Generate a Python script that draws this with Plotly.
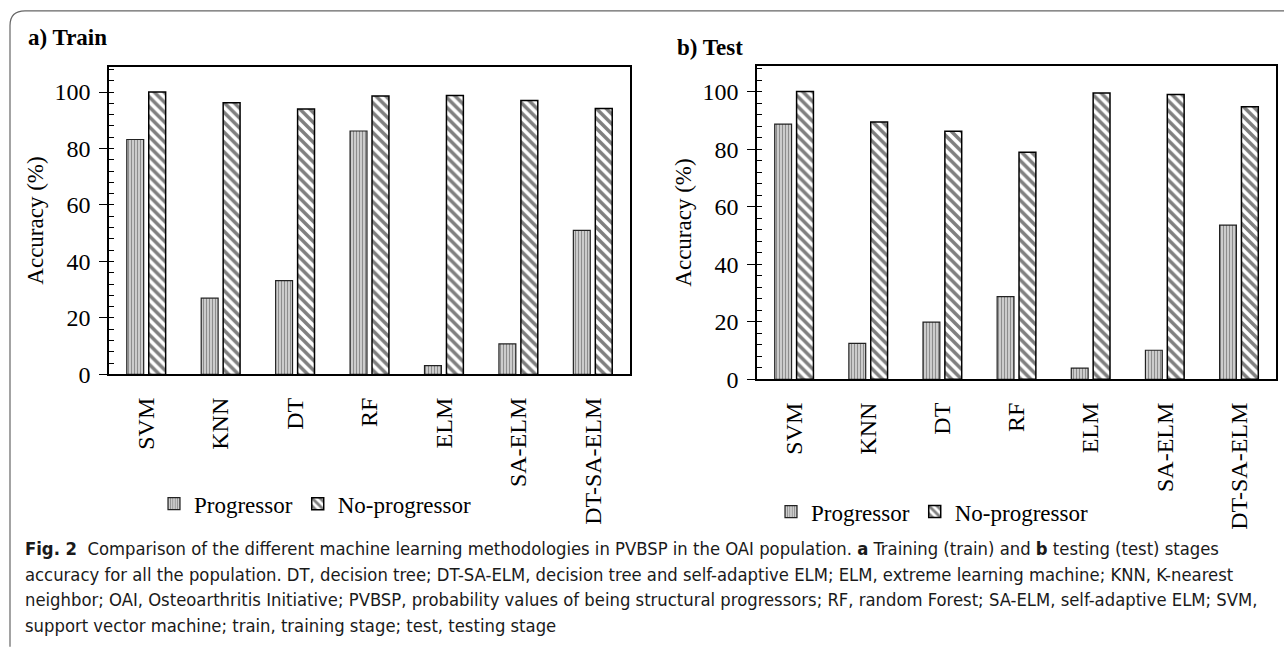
import plotly.graph_objects as go

categories = ["SVM", "KNN", "DT", "RF", "ELM", "SA-ELM", "DT-SA-ELM"]
train_progressor = [83.2, 27.0, 33.2, 86.2, 3.1, 10.8, 51.0]
train_noprogressor = [100.0, 96.2, 94.0, 98.6, 98.8, 97.0, 94.2]
test_progressor = [88.7, 12.5, 19.9, 28.7, 3.9, 10.1, 53.6]
test_noprogressor = [100.0, 89.4, 86.2, 78.9, 99.5, 99.0, 94.7]
y_ticks = [0, 20, 40, 60, 80, 100]

W, H = 1284, 653
SERIF = "Liberation Serif, Times New Roman, serif"
CAP = "Liberation Sans Narrow, DejaVu Sans Condensed, Open Sans, sans-serif"

def px(x):
    return x / W

def py(y):
    return 1 - y / H

prog_style = dict(
    color="white",
    line=dict(color="#222222", width=1.2),
    pattern=dict(shape="|", size=3, solidity=0.5, fgcolor="#3a3a3a", bgcolor="#e0e0e0"),
)
nop_style = dict(
    color="white",
    line=dict(color="black", width=1.5),
    pattern=dict(shape="\\", size=7, solidity=0.5, fgcolor="black", bgcolor="white"),
)

fig = go.Figure()
fig.add_trace(go.Bar(x=categories, y=train_progressor, name="Progressor", marker=prog_style,
                     xaxis="x", yaxis="y", legend="legend"))
fig.add_trace(go.Bar(x=categories, y=train_noprogressor, name="No-progressor", marker=nop_style,
                     xaxis="x", yaxis="y", legend="legend"))
fig.add_trace(go.Bar(x=categories, y=test_progressor, name="Progressor", marker=prog_style,
                     xaxis="x2", yaxis="y2", legend="legend2"))
fig.add_trace(go.Bar(x=categories, y=test_noprogressor, name="No-progressor", marker=nop_style,
                     xaxis="x2", yaxis="y2", legend="legend2"))

xcommon = dict(
    showline=True, linecolor="black", linewidth=1.5, mirror=True,
    ticks="", tickangle=-90, tickfont=dict(family=SERIF, size=24, color="black"),
    ticklabelstandoff=12,
    showgrid=False, zeroline=False, fixedrange=True,
)
ycommon = dict(
    range=[0, 109], tickvals=y_ticks, showline=True, linecolor="black", linewidth=1.5,
    mirror=True, ticks="outside", ticklen=8, tickwidth=1.2, tickcolor="black",
    minor=dict(dtick=4, tick0=0, ticks="inside", ticklen=5, tickwidth=1, tickcolor="black"),
    tickfont=dict(family=SERIF, size=24, color="black"),
    ticklabelstandoff=4,
    showgrid=False, zeroline=False,
    title=dict(text="Accuracy (%)", font=dict(family=SERIF, size=23, color="black"), standoff=4),
)

fig.update_layout(
    width=W, height=H,
    margin=dict(l=0, r=0, t=0, b=0),
    paper_bgcolor="white", plot_bgcolor="white",
    barmode="group", bargap=0.41, bargroupgap=0.23,
    xaxis=dict(domain=[px(109), px(630)], anchor="y", **xcommon),
    yaxis=dict(domain=[py(382), py(68)], anchor="x", **ycommon),
    xaxis2=dict(domain=[px(757), px(1276)], anchor="y2", **xcommon),
    yaxis2=dict(domain=[py(387), py(67)], anchor="x2", **ycommon),
    legend=dict(orientation="h", x=px(154), xanchor="left", y=py(514), yanchor="middle",
                font=dict(family=SERIF, size=23, color="black"), bgcolor="rgba(0,0,0,0)",
                itemwidth=30, tracegroupgap=0),
    legend2=dict(orientation="h", x=px(771), xanchor="left", y=py(522), yanchor="middle",
                 font=dict(family=SERIF, size=23, color="black"), bgcolor="rgba(0,0,0,0)",
                 itemwidth=30, tracegroupgap=0),
    showlegend=True,
)

# panel titles
fig.add_annotation(text="<b>a) Train</b>", x=px(26), y=py(38), xref="paper", yref="paper",
                   xanchor="left", yanchor="middle", showarrow=False,
                   font=dict(family=SERIF, size=23, color="black"))
fig.add_annotation(text="<b>b) Test</b>", x=px(675), y=py(48), xref="paper", yref="paper",
                   xanchor="left", yanchor="middle", showarrow=False,
                   font=dict(family=SERIF, size=23, color="black"))

# caption
caption_lines = [
    "<b>Fig. 2</b>  Comparison of the different machine learning methodologies in PVBSP in the OAI population. <b>a</b> Training (train) and <b>b</b> testing (test) stages",
    "accuracy for all the population. DT, decision tree; DT-SA-ELM, decision tree and self-adaptive ELM; ELM, extreme learning machine; KNN, K-nearest",
    "neighbor; OAI, Osteoarthritis Initiative; PVBSP, probability values of being structural progressors; RF, random Forest; SA-ELM, self-adaptive ELM; SVM,",
    "support vector machine; train, training stage; test, testing stage",
]
for i, line in enumerate(caption_lines):
    fig.add_annotation(text=line, x=px(23), y=py(560 + 26 * i), xref="paper", yref="paper",
                       xanchor="left", yanchor="middle", showarrow=False,
                       font=dict(family=CAP, size=18.3, color="#1a1a1a"))

# outer rounded frame (open right/bottom)
path = (f"M {px(10)},{py(660)} L {px(10)},{py(26)} "
        f"Q {px(10)},{py(11)} {px(25)},{py(11)} L {px(1290)},{py(11)}")
fig.add_shape(type="path", path=path, xref="paper", yref="paper",
              line=dict(color="#666666", width=1.2), layer="below")

fig.write_html("out.html")
